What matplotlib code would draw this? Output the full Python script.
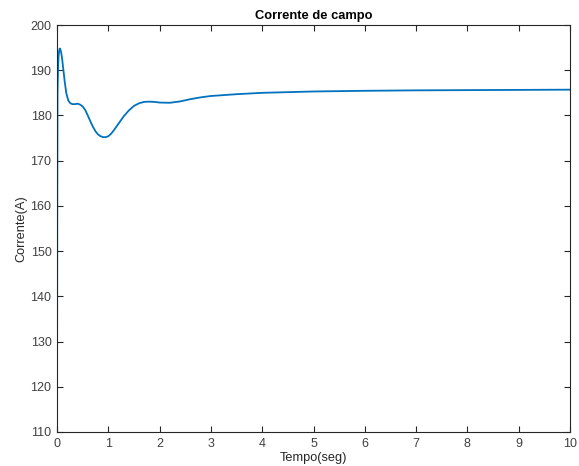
import matplotlib
matplotlib.use('Agg')
from matplotlib import pyplot as plt

plt.rcParams['font.family'] = ['Liberation Sans', 'DejaVu Sans']

# field current response
tempo = [0, 0.005, 0.01, 0.02, 0.03, 0.04, 0.05, 0.06, 0.08, 0.10, 0.12, 0.15,
         0.18, 0.22, 0.26, 0.30, 0.35, 0.40, 0.45, 0.50, 0.55, 0.60, 0.65, 0.70,
         0.75, 0.80, 0.85, 0.90, 0.95, 1.00, 1.05, 1.10, 1.20, 1.30, 1.40, 1.50,
         1.60, 1.70, 1.80, 1.90, 2.00, 2.20, 2.40, 2.60, 2.80, 3.00, 3.50, 4.0,
         5.0, 6.0, 7.0, 8.0, 9.0, 10.0]
corrente = [112, 160, 185, 190.5, 193, 194.2, 194.7, 194.8, 194, 192.5, 190.5, 187.5,
            185, 183.3, 182.7, 182.5, 182.5, 182.6, 182.4, 182, 181.2, 180, 178.7, 177.5,
            176.5, 175.8, 175.4, 175.2, 175.2, 175.4, 175.9, 176.6, 178.2, 179.8, 181.1, 182.1,
            182.7, 183, 183.05, 183, 182.85, 182.8, 183.1, 183.6, 184, 184.3, 184.7, 185.0,
            185.3, 185.45, 185.55, 185.6, 185.65, 185.7]

xticks = list(range(0, 11))
yticks = list(range(110, 201, 10))

fig = plt.figure(figsize=(5.79, 4.66), dpi=100)
ax = fig.add_axes([57 / 579, 34 / 466, 513 / 579, 407 / 466])

ax.plot(tempo, corrente, color='#0072BD', linewidth=1.3)

ax.set_xlim(0, 10)
ax.set_ylim(110, 200)
ax.set_xticks(xticks)
ax.set_yticks(yticks)
ax.tick_params(direction='in', top=True, right=True, length=4, width=0.8,
               labelsize=9, colors='#262626', labelcolor='#404040', pad=4)
for s in ax.spines.values():
    s.set_color('#262626')
    s.set_linewidth(0.8)

ax.set_title('Corrente de campo', fontsize=9.3, fontweight='bold', pad=4)
ax.set_xlabel('Tempo(seg)', fontsize=9.2, color='#262626', labelpad=2)
ax.set_ylabel('Corrente(A)', fontsize=9.2, color='#262626', labelpad=2)

fig.savefig('out.png', dpi=100)
